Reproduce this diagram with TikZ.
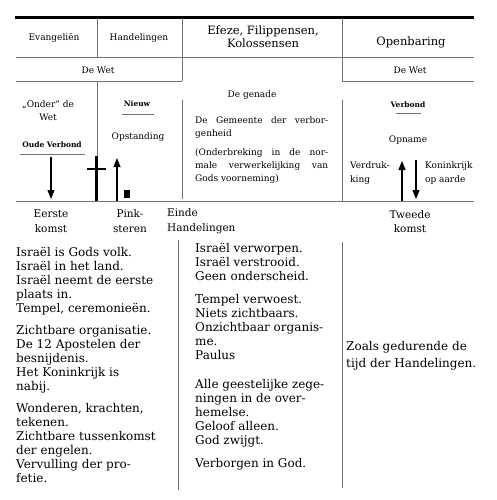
\documentclass[tikz,border=0pt]{standalone}
\usepackage{fontspec}
\setmainfont{DejaVu Serif}
\usetikzlibrary{arrows.meta,positioning}
\definecolor{rulegray}{gray}{0.45}
\tikzset{
    rule/.style={draw=rulegray,line width=0.7pt},
    heavyrule/.style={draw=black,line width=3pt},
    headtxt/.style={font=\fontsize{9}{11}\selectfont,align=center,inner sep=0pt},
    bigtxt/.style={font=\fontsize{11.5}{13}\selectfont,align=center,inner sep=0pt},
    celltxt/.style={font=\fontsize{9}{13}\selectfont,align=center,inner sep=0pt},
    tagtxt/.style={font=\fontsize{7.5}{9}\selectfont\bfseries,inner sep=0pt},
    marktxt/.style={font=\fontsize{10.5}{14.5}\selectfont,align=center,inner sep=0pt},
    bodytxt/.style={font=\fontsize{12}{14}\selectfont,align=left,inner sep=0pt,anchor=north west},
    event/.style={-{Triangle[length=9pt,width=7pt]},line width=1.1pt},
    crossbar/.style={line width=2.4pt}
}

\begin{document}
\begin{tikzpicture}[x=1pt,y=-1pt]
\useasboundingbox (0,0) rectangle (496,500);

% table rules
\draw[heavyrule] (15,18) -- (474,18);
\draw[rule] (16,57) -- (474,57);
\draw[rule] (16,81) -- (182,81);
\draw[rule] (342,81) -- (474,81);
\draw[rule] (16,201) -- (474,201);
\draw[rule] (97,18) -- (97,57);
\draw[rule] (97,81) -- (97,157);
\draw[rule] (182,18) -- (182,81);
\draw[rule] (182,100) -- (182,199);
\draw[rule] (342,18) -- (342,81);
\draw[rule] (342,100) -- (342,201);
\draw[rule] (178,240) -- (178,490);
\draw[rule] (342,242) -- (342,488);

% headers
\node[headtxt] (evang) at (54,38) {Evangeliën};
\node[headtxt] (hand) at (139,38) {Handelingen};
\node[bigtxt] (efeze) at (263,36.5) {Efeze, Filippensen,\\Kolossensen};
\node[bigtxt] (openb) at (411,42) {Openbaring};
\node[headtxt] (wetA) at (98,70) {De Wet};
\node[headtxt] (wetB) at (410,70) {De Wet};

% Evangelien
\node[celltxt] (onder) at (48,111) {„Onder” de\\Wet};
\node[tagtxt] (oude) at (52,145) {Oude Verbond};
\draw[rule,line width=0.5pt] (20,154) -- (85,154);
\coordinate (komstTop) at (51,157);
\coordinate (komstBot) at (51,199);
\draw[event] (komstTop) -- (komstBot);
\draw[crossbar] (96.5,156) -- (96.5,201);
\draw[crossbar] (87,169) -- (106,169);

% Handelingen
\node[tagtxt] (nieuw) at (137,104) {Nieuw};
\draw[rule,line width=0.5pt] (122,114) -- (154,114);
\node[celltxt] (opst) at (138,137) {Opstanding};
\coordinate (opstBot) at (117,201);
\coordinate (opstTop) at (117,158);
\draw[event] (opstBot) -- (opstTop);
\fill (124,190) rectangle (130,198);

% Efeze, Filippensen, Kolossensen
\node[celltxt] (genade) at (252,95) {De genade};
\node[celltxt,text width=133pt,align=justify,anchor=north west] (gemeente) at (195,116)
{De Gemeente der verbor-\linebreak genheid\\[6pt]
(Onderbreking in de nor-\linebreak male verwerkelijking van\linebreak Gods voorneming)};

% Openbaring
\node[tagtxt] (verbond) at (408,105) {Verbond};
\draw[rule,line width=0.5pt] (396,113) -- (421,113);
\node[celltxt] (opname) at (408,140) {Opname};
\node[celltxt,align=left,anchor=west,font=\fontsize{9}{14}\selectfont] (verdruk) at (350,173) {Verdruk-\\king};
\node[celltxt,align=left,anchor=west,font=\fontsize{9}{14}\selectfont] (koninkrijk) at (425,173) {Koninkrijk\\op aarde};
\coordinate (opnameBot) at (402,201);
\coordinate (opnameTop) at (402,161);
\coordinate (rijkTop) at (416,160);
\coordinate (rijkBot) at (416,199);
\draw[event] (opnameBot) -- (opnameTop);
\draw[event] (rijkTop) -- (rijkBot);

% time marks
\node[marktxt] (eerste) at (51,221) {Eerste\\komst};
\node[marktxt] (pink) at (130,221) {Pink-\\steren};
\node[marktxt,align=left,anchor=west] (einde) at (167,221) {Einde\\Handelingen};
\node[marktxt] (tweede) at (410,221.5) {Tweede\\komst};

% contents
\node[bodytxt] (israel) at (16,247) {Israël is Gods volk.\\
Israël in het land.\\
Israël neemt de eerste\\
plaats in.\\
Tempel, ceremonieën.\\[8pt]
Zichtbare organisatie.\\
De 12 Apostelen der\\
besnijdenis.\\
Het Koninkrijk is\\
nabij.\\[8pt]
Wonderen, krachten,\\
tekenen.\\
Zichtbare tussenkomst\\
der engelen.\\
Vervulling der pro-\\
fetie.};

\node[bodytxt] (verworpen) at (195,243) {Israël verworpen.\\
Israël verstrooid.\\
Geen onderscheid.\\[9pt]
Tempel verwoest.\\
Niets zichtbaars.\\
Onzichtbaar organis-\\
me.\\
Paulus\\[15pt]
Alle geestelijke zege-\\
ningen in de over-\\
hemelse.\\
Geloof alleen.\\
God zwijgt.\\[9pt]
Verborgen in God.};

\node[bodytxt,font=\fontsize{12}{17}\selectfont] (zoals) at (346,341) {Zoals gedurende de\\
tijd der Handelingen.};

\end{tikzpicture}
\end{document}
